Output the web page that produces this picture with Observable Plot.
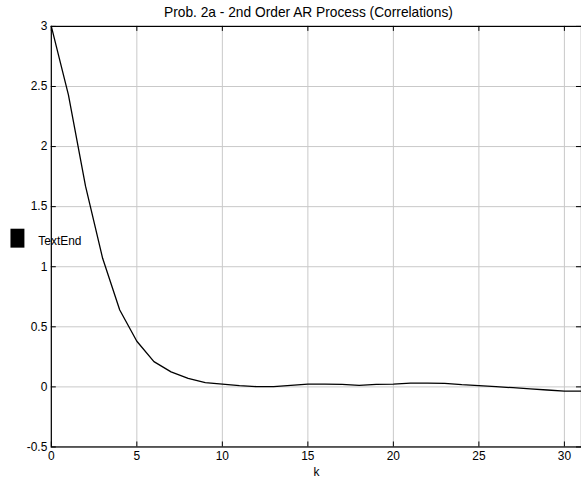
<!DOCTYPE html>
<html>
<head>
<meta charset="utf-8">
<script src="https://cdn.jsdelivr.net/npm/d3@7"></script>
<script src="https://cdn.jsdelivr.net/npm/@observablehq/plot@0.6"></script>
<style>
  html, body { margin: 0; padding: 0; background: white; }
  #chart { width: 581px; height: 482px; overflow: hidden; }
  #chart svg { display: block; }
</style>
</head>
<body>
<div id="chart"></div>
<script>
// Lag index and autocorrelation values of the AR(2) process
const lags = [0, 1, 2, 3, 4, 5, 6, 7, 8, 9, 10, 11, 12, 13, 14, 15,
              16, 17, 18, 19, 20, 21, 22, 23, 24, 25, 26, 27, 28, 29, 30, 31];
const correlations = [3.00, 2.43, 1.67, 1.07, 0.64, 0.38, 0.21, 0.125, 0.07, 0.035,
                      0.023, 0.01, 0.002, 0.002, 0.012, 0.023, 0.023, 0.02, 0.012, 0.02,
                      0.023, 0.032, 0.032, 0.03, 0.018, 0.01, 0.002, -0.007, -0.016,
                      -0.026, -0.035, -0.035];

const xTicks = [0, 5, 10, 15, 20, 25, 30];
const yTicks = [-0.5, 0, 0.5, 1, 1.5, 2, 2.5, 3];
const xDomain = [0, 31];
const yDomain = [-0.5, 3];

const titleText = "Prob. 2a - 2nd Order AR Process (Correlations)";
const xLabel = "k";
const noteText = "TextEnd";

const W = 583, H = 482;
const mt = 26, mb = 34, ml = 51, mr = 0;
const frameW = W - ml - mr, frameH = H - mt - mb;
const tickLen = 5;

const rows = lags.map((k, i) => ({k, r: correlations[i]}));

// Rectangular marker drawn next to the note text
const blockSymbol = {draw(ctx) { ctx.rect(-7, -9.5, 14, 19); }};

const chart = Plot.plot({
  width: W,
  height: H,
  marginTop: mt,
  marginBottom: mb,
  marginLeft: ml,
  marginRight: mr,
  style: {
    fontFamily: "'Liberation Sans', Arial, Helvetica, sans-serif",
    fontSize: "12px",
    background: "white",
    color: "black",
    overflow: "visible"
  },
  x: {domain: xDomain},
  y: {domain: yDomain},
  marks: [
    Plot.gridX(xTicks, {stroke: "#c9c9c9", strokeOpacity: 1, strokeWidth: 1}),
    Plot.gridY(yTicks, {stroke: "#c9c9c9", strokeOpacity: 1, strokeWidth: 1}),
    Plot.axisX(xTicks, {tickSize: 0, tickPadding: 5, label: null, tickFormat: d => String(d)}),
    Plot.axisY(yTicks, {tickSize: 0, tickPadding: 4, label: null, tickFormat: d => String(d)}),
    // inward tick marks on all four sides
    Plot.tickX(xTicks, {x: d => d, insetTop: frameH - tickLen, stroke: "black"}),
    Plot.tickX(xTicks, {x: d => d, insetBottom: frameH - tickLen, stroke: "black"}),
    Plot.tickY(yTicks, {y: d => d, insetRight: frameW - tickLen, stroke: "black"}),
    Plot.tickY(yTicks, {y: d => d, insetLeft: frameW - tickLen, stroke: "black"}),
    Plot.line(rows, {x: "k", y: "r", stroke: "black", strokeWidth: 1.3}),
    Plot.frame({stroke: "black", strokeWidth: 1.2}),
    Plot.text([titleText], {text: d => d, frameAnchor: "top", lineAnchor: "middle", dy: -14, dx: -8, fontSize: 13.8}),
    Plot.text([xLabel], {text: d => d, frameAnchor: "bottom", lineAnchor: "middle", dy: 25, fontSize: 12}),
    Plot.text([noteText], {text: d => d, frameAnchor: "left", dx: -13, dy: 5, textAnchor: "start", fontSize: 12}),
    Plot.dot([noteText], {frameAnchor: "left", dx: -34, dy: 1.5, symbol: blockSymbol, fill: "black", stroke: null})
  ]
});

document.getElementById("chart").appendChild(chart);
</script>
</body>
</html>
